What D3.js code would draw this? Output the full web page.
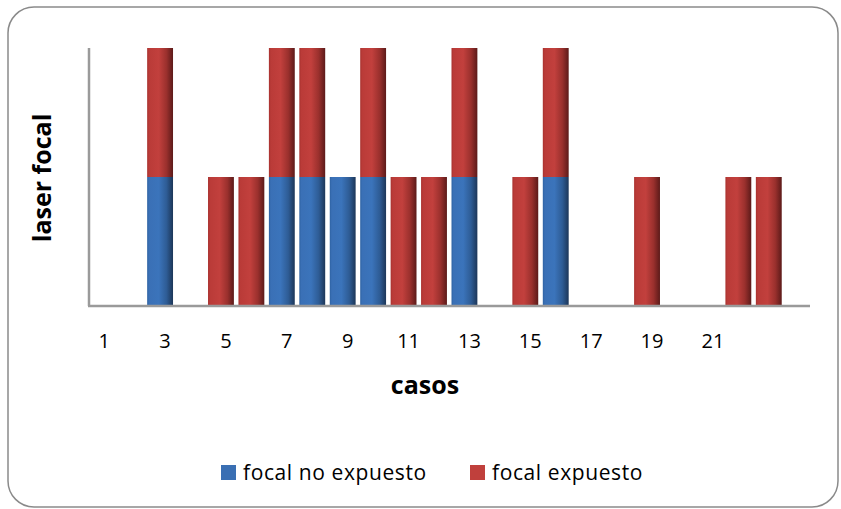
<!DOCTYPE html>
<html>
<head>
<meta charset="utf-8">
<script src="https://cdn.jsdelivr.net/npm/d3@7/dist/d3.min.js"></script>
<style>
  body { margin: 0; background: #fff; }
  svg text { font-family: "Open Sans", "Noto Sans", sans-serif; fill: #000; }
</style>
</head>
<body>
<svg id="svg1" width="841" height="509"></svg>
<script>
// data
var casos = d3.range(1, 24);                 // cases 1..23
var tickLabels = [1, 3, 5, 7, 9, 11, 13, 15, 17, 19, 21];
var noExpuesto = [0,0,1,0,0,0,1,1,1,1,0,0,1,0,0,1,0,0,0,0,0,0,0];
var expuesto   = [0,0,1,0,1,1,1,1,0,1,1,1,1,0,1,1,0,0,1,0,0,1,1];
var seriesNames = ['focal no expuesto', 'focal expuesto'];

var svg = d3.select('#svg1');

// outer rounded frame
svg.append('rect')
    .attr('x', 8).attr('y', 7)
    .attr('width', 830).attr('height', 500)
    .attr('rx', 26).attr('ry', 26)
    .attr('fill', '#fff')
    .attr('stroke', '#8a8a8a')
    .attr('stroke-width', 1.5);

var x = d3.scaleBand()
    .domain(casos)
    .range([89, 789])
    .paddingInner(0.15)
    .paddingOuter(0.075);

var y = d3.scaleLinear()
    .domain([0, 2])
    .range([306, 48]);

// gradients to fake the 3d column shading
var defs = svg.append('defs');
function grad(id, stops) {
  var g = defs.append('linearGradient').attr('id', id)
      .attr('x1', '0%').attr('x2', '100%').attr('y1', '0%').attr('y2', '0%');
  stops.forEach(function(s){
    g.append('stop').attr('offset', s[0]).attr('stop-color', s[1]);
  });
}
grad('gBlue', [['0%', '#2f63a3'], ['8%', '#3a70b6'], ['45%', '#3b74bb'], ['75%', '#2e5c95'], ['100%', '#1c3658']]);
grad('gRed',  [['0%', '#a8322f'], ['8%', '#ba3b38'], ['45%', '#c2403d'], ['75%', '#9a302d'], ['100%', '#5c1a19']]);

var stacked = casos.map(function(c, i){
  return {caso: c, a: noExpuesto[i], b: expuesto[i]};
});

var shift = -5; // 3d front face sits left of the label
var bars = svg.append('g');

bars.selectAll('rect.blue')
    .data(stacked.filter(function(d){ return d.a > 0; }))
    .enter().append('rect')
    .attr('class', 'blue')
    .attr('x', function(d){ return x(d.caso) + shift; })
    .attr('width', x.bandwidth())
    .attr('y', function(d){ return y(d.a); })
    .attr('height', function(d){ return y(0) - y(d.a); })
    .attr('fill', 'url(#gBlue)');

bars.selectAll('rect.red')
    .data(stacked.filter(function(d){ return d.b > 0; }))
    .enter().append('rect')
    .attr('class', 'red')
    .attr('x', function(d){ return x(d.caso) + shift; })
    .attr('width', x.bandwidth())
    .attr('y', function(d){ return y(d.a + d.b); })
    .attr('height', function(d){ return y(d.a) - y(d.a + d.b); })
    .attr('fill', 'url(#gRed)');

// axes lines
svg.append('line')
    .attr('x1', 89).attr('x2', 89)
    .attr('y1', y(2)).attr('y2', y(0))
    .attr('stroke', '#9a9a9a').attr('stroke-width', 2.5);
svg.append('line')
    .attr('x1', 88).attr('x2', x.range()[1] + 21)
    .attr('y1', y(0)).attr('y2', y(0))
    .attr('stroke', '#9a9a9a').attr('stroke-width', 2.5);

// tick labels
svg.append('g').selectAll('text')
    .data(tickLabels)
    .enter().append('text')
    .attr('x', function(d){ return x(d) + x.bandwidth() / 2; })
    .attr('y', 348)
    .attr('text-anchor', 'middle')
    .style('font-size', '20px')
    .text(function(d){ return d; });

// axis titles
svg.append('text')
    .attr('x', 425).attr('y', 394)
    .attr('text-anchor', 'middle')
    .style('font-size', '25px').style('font-weight', 'bold')
    .text('casos');

svg.append('text')
    .attr('transform', 'translate(51,178) rotate(-90)')
    .attr('text-anchor', 'middle')
    .style('font-size', '25px').style('font-weight', 'bold')
    .text('laser focal');

// legend
var legend = svg.append('g');
var legendX = [221, 470];
var legendFill = ['#3a6fb3', '#c0403c'];
seriesNames.forEach(function(name, i){
  legend.append('rect')
      .attr('x', legendX[i]).attr('y', 465)
      .attr('width', 15).attr('height', 15)
      .attr('fill', legendFill[i]);
  legend.append('text')
      .attr('x', legendX[i] + 22).attr('y', 480)
      .style('font-size', '21px')
      .style('letter-spacing', '0.6px')
      .text(name);
});
</script>
</body>
</html>
